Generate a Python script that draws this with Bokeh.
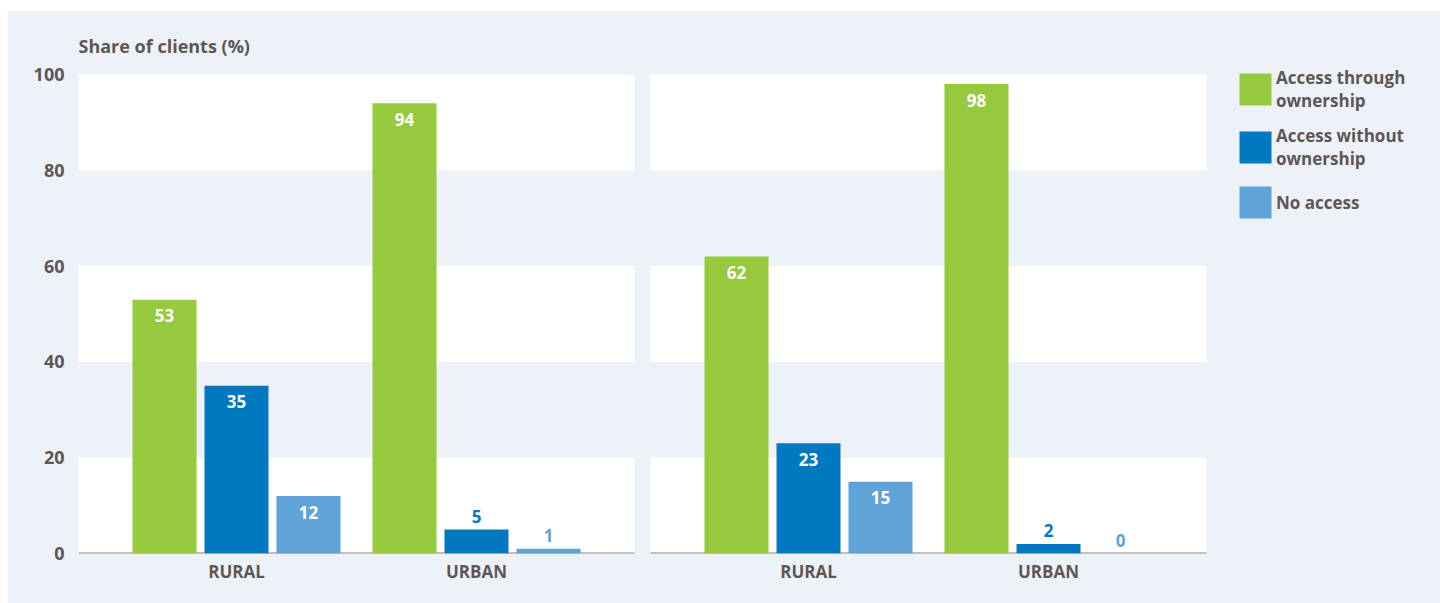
from bokeh.plotting import figure
from bokeh.models import Range1d, FixedTicker, Legend, LegendItem, ColumnDataSource
from bokeh.core.properties import value
from bokeh.embed import file_html
from bokeh.resources import INLINE

# ---------------- data ----------------
groups = ["RURAL", "URBAN"]
series_names = ["Access through\nownership", "Access without\nownership", "No access"]
panel1_through = [53, 94]
panel1_without = [35, 5]
panel1_none = [12, 1]
panel2_through = [62, 98]
panel2_without = [23, 2]
panel2_none = [15, 0]
y_ticks = [0, 20, 40, 60, 80, 100]
y_title = "Share of clients (%)"

# ---------------- style ----------------
colors = ["#96c93d", "#0079c1", "#5fa3d8"]
BG = "#edf2f9"
TXT = "#5f5654"
FONT = "Open Sans"

# layout in screen-like units (1 unit = 1 px along x)
PANEL_W = 556
GAP = 16
PAD = 158
GROUP_SP = 240
BAR_STEP = 72
BAR_W = 64
W, H = 1433, 593
LEFT, TOP, BOTTOM = 71, 52, 50
FRAME_W = W - LEFT
FRAME_H = H - TOP - BOTTOM
PX_PER_UNIT = 4.79
Y_END = FRAME_H / PX_PER_UNIT

panels = [[panel1_through, panel1_without, panel1_none],
          [panel2_through, panel2_without, panel2_none]]

p = figure(width=W, height=H, output_backend="svg", toolbar_location=None,
           x_range=Range1d(0, FRAME_W), y_range=Range1d(0, Y_END),
           min_border_left=LEFT, min_border_right=0, min_border_top=TOP,
           min_border_bottom=BOTTOM)
p.margin = (10, 0, 0, 7)
p.background_fill_color = BG
p.border_fill_color = BG
p.outline_line_color = None
p.grid.visible = False

p.title.text = y_title
p.title.text_font = FONT
p.title.text_font_style = "bold"
p.title.text_font_size = "18px"
p.title.text_color = TXT
p.title.align = "left"
p.title.offset = 0
p.title.standoff = 9

# white bands and baseline per panel
panel_left = [i * (PANEL_W + GAP) for i in range(len(panels))]
band_l, band_r, band_b, band_t = [], [], [], []
for pl in panel_left:
    for b in range(0, len(y_ticks) - 1, 2):
        band_l.append(pl)
        band_r.append(pl + PANEL_W)
        band_b.append(y_ticks[b])
        band_t.append(y_ticks[b + 1])
p.quad(left=band_l, right=band_r, bottom=band_b, top=band_t,
       fill_color="white", line_color=None)
p.segment(x0=panel_left, x1=[pl + PANEL_W for pl in panel_left],
          y0=[0] * len(panel_left), y1=[0] * len(panel_left),
          line_color="#8a8381", line_width=2)

# bars
tick_pos = []
tick_lab = {}
for pi, pl in enumerate(panel_left):
    for gi, g in enumerate(groups):
        c = pl + PAD + gi * GROUP_SP
        tick_pos.append(c)
        tick_lab[c] = g

legend_items = []
lab_x, lab_y, lab_t, lab_c, lab_off = [], [], [], [], []
for si, name in enumerate(series_names):
    xs, tops = [], []
    for pi, pl in enumerate(panel_left):
        for gi in range(len(groups)):
            x = pl + PAD + gi * GROUP_SP + (si - 1) * BAR_STEP
            v = panels[pi][si][gi]
            xs.append(x)
            tops.append(v)
            lab_x.append(x)
            lab_y.append(v)
            lab_t.append(str(v))
            if v >= 10:
                lab_c.append("white")
                lab_off.append(16)
            else:
                lab_c.append(colors[si])
                lab_off.append(-13)
    r = p.vbar(x=xs, top=tops, bottom=0, width=BAR_W, fill_color=colors[si],
               line_color=None)
    legend_items.append(LegendItem(label=name, renderers=[r]))

src = ColumnDataSource(dict(x=lab_x, y=lab_y, t=lab_t, c=lab_c, o=lab_off))
p.text(x="x", y="y", text="t", text_color="c", y_offset="o", source=src,
       text_font=value(FONT), text_font_style="bold", text_font_size="17px",
       text_align="center", text_baseline="middle")

# axes
p.xaxis.ticker = FixedTicker(ticks=tick_pos)
p.xaxis.major_label_overrides = tick_lab
p.xaxis.axis_line_color = None
p.xaxis.major_tick_line_color = None
p.xaxis.minor_tick_line_color = None
p.xaxis.major_label_standoff = 0
p.xaxis.major_label_text_font = FONT
p.xaxis.major_label_text_font_style = "bold"
p.xaxis.major_label_text_font_size = "17px"
p.xaxis.major_label_text_color = TXT

p.yaxis.ticker = FixedTicker(ticks=y_ticks)
p.yaxis.axis_line_color = None
p.yaxis.major_tick_line_color = None
p.yaxis.minor_tick_line_color = None
p.yaxis.major_label_standoff = 8
p.yaxis.major_label_text_font = FONT
p.yaxis.major_label_text_font_style = "bold"
p.yaxis.major_label_text_font_size = "18px"
p.yaxis.major_label_text_color = TXT

LEG_H = 44 + 12 + 44 + 12 + 40
legend = Legend(items=legend_items, location=(1157, FRAME_H - 8 - LEG_H),
                margin=0, padding=0, spacing=12,
                glyph_width=40, glyph_height=40, label_standoff=1,
                label_text_font=FONT, label_text_font_style="bold",
                label_text_font_size="17px", label_text_color=TXT,
                label_text_line_height=0.9,
                background_fill_alpha=0, border_line_color=None)
p.add_layout(legend)

open("out.html", "w").write(file_html(p, INLINE))
